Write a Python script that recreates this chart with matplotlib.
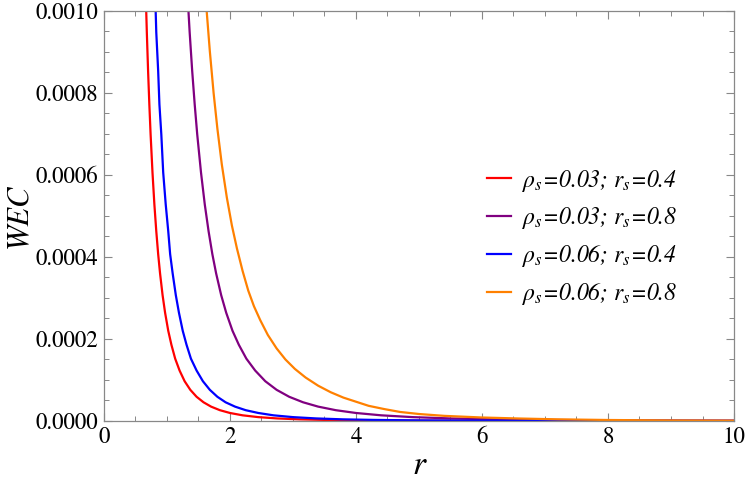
import matplotlib
matplotlib.use("Agg")
import matplotlib.pyplot as plt
from matplotlib.ticker import MultipleLocator, FormatStrFormatter

plt.rcParams['font.family'] = ['STIXGeneral', 'Liberation Serif', 'DejaVu Serif']
plt.rcParams['mathtext.fontset'] = 'stix'

# --- data (WEC values, in units of 1e-6) ---
r_red = [0.62, 0.64, 0.66, 0.68, 0.70, 0.72, 0.74, 0.77, 0.80, 0.83, 0.86, 0.89, 0.93, 0.97,
         1.02, 1.07, 1.13, 1.20, 1.28, 1.37, 1.47, 1.58, 1.70, 1.84, 2.00, 2.20, 2.45, 2.75,
         3.10, 3.50, 4.00, 4.60, 5.30, 6.20, 7.30, 8.60, 10.0]
v_red = [1322, 1179, 1056, 948, 854, 772, 699, 606, 528, 463, 407, 360, 307, 264,
         220, 186, 152, 123, 97, 76, 59, 45.6, 35, 26.3, 19.5, 13.8, 9.4, 6.2,
         4.0, 2.6, 1.6, 0.97, 0.58, 0.33, 0.18, 0.10, 0.06]

r_purple = [1.24, 1.28, 1.32, 1.36, 1.40, 1.44, 1.48, 1.54, 1.60, 1.66, 1.72, 1.78, 1.86, 1.94,
            2.04, 2.14, 2.26, 2.40, 2.56, 2.74, 2.94, 3.16, 3.40, 3.68, 4.00, 4.40, 4.90, 5.50,
            6.20, 7.00, 8.00, 9.20, 10.0]
v_purple = [1322, 1179, 1056, 948, 854, 772, 699, 606, 528, 463, 407, 360, 307, 264,
            220, 186, 152, 123, 97, 76, 59, 45.6, 35, 26.3, 19.5, 13.8, 9.4, 6.2,
            4.0, 2.6, 1.6, 0.97, 0.72]

r_blue = [0.76, 0.78, 0.81, 0.83, 0.86, 0.88, 0.91, 0.94, 0.98, 1.02, 1.05, 1.09, 1.14, 1.19,
          1.25, 1.31, 1.38, 1.47, 1.57, 1.68, 1.80, 1.93, 2.08, 2.25, 2.45, 2.69, 3.00, 3.37,
          3.79, 4.28, 4.90, 5.63, 6.49, 7.59, 8.93, 10.0]
v_blue = [1322, 1179, 1056, 948, 854, 772, 699, 606, 528, 463, 407, 360, 307, 264,
          220, 186, 152, 123, 97, 76, 59, 45.6, 35, 26.3, 19.5, 13.8, 9.4, 6.2,
          4.0, 2.6, 1.6, 0.97, 0.58, 0.33, 0.18, 0.12]

r_orange = [1.58, 1.63, 1.68, 1.74, 1.80, 1.87, 1.95, 2.03, 2.11, 2.20, 2.29, 2.38, 2.48, 2.60,
            2.74, 2.88, 3.03, 3.20, 3.40, 3.60, 3.80, 4.00, 4.20, 4.45, 4.70, 5.00, 5.40, 6.00,
            6.60, 7.20, 8.00, 9.00, 10.0]
v_orange = [1115, 1000, 902, 800, 713, 626, 545, 477, 421, 366, 318, 280, 246, 210,
            177, 150, 127, 106, 86, 70, 57, 47, 37, 29, 22, 17, 12.5, 8.5,
            6, 4, 2.4, 1.3, 0.8]

labels = [r'$\rho_s$=0.03; $r_s$=0.4',
          r'$\rho_s$=0.03; $r_s$=0.8',
          r'$\rho_s$=0.06; $r_s$=0.4',
          r'$\rho_s$=0.06; $r_s$=0.8']
colors = ['#FF0000', '#800080', '#0000FF', '#FF8000']
series = [(r_red, v_red), (r_purple, v_purple), (r_blue, v_blue), (r_orange, v_orange)]

fig = plt.figure(figsize=(7.47, 4.82), dpi=100)
ax = fig.add_axes([0.1392, 0.1266, 0.8434, 0.8506])

for (rr, vv), c, lab in zip(series, colors, labels):
    ax.plot(rr, [v * 1e-6 for v in vv], color=c, lw=1.6, label=lab,
            solid_joinstyle='round')

ax.set_xlim(0, 10)
ax.set_ylim(0, 0.001)
ax.xaxis.set_major_locator(MultipleLocator(2))
ax.xaxis.set_minor_locator(MultipleLocator(0.5))
ax.yaxis.set_major_locator(MultipleLocator(0.0002))
ax.yaxis.set_minor_locator(MultipleLocator(0.00005))
ax.yaxis.set_major_formatter(FormatStrFormatter('%.4f'))
ax.tick_params(which='both', direction='in', top=True, right=True, color='#888888',
               labelsize=16.5, pad=4)
ax.tick_params(which='major', length=6, width=0.8)
ax.tick_params(which='minor', length=3.5, width=0.7)
for s in ax.spines.values():
    s.set_color('#888888')
    s.set_linewidth(0.9)

ax.set_xlabel('r', fontsize=24, style='italic', labelpad=2)
ax.set_ylabel('WEC', fontsize=22, style='italic')
ax.yaxis.set_label_coords(-0.114, 0.5)

leg = ax.legend(loc='upper left', bbox_to_anchor=(0.575, 0.67), frameon=False,
                prop={'size': 17, 'style': 'italic'},
                handlelength=1.0, handletextpad=0.45, labelspacing=0.5)

fig.savefig('out.png', dpi=100)
